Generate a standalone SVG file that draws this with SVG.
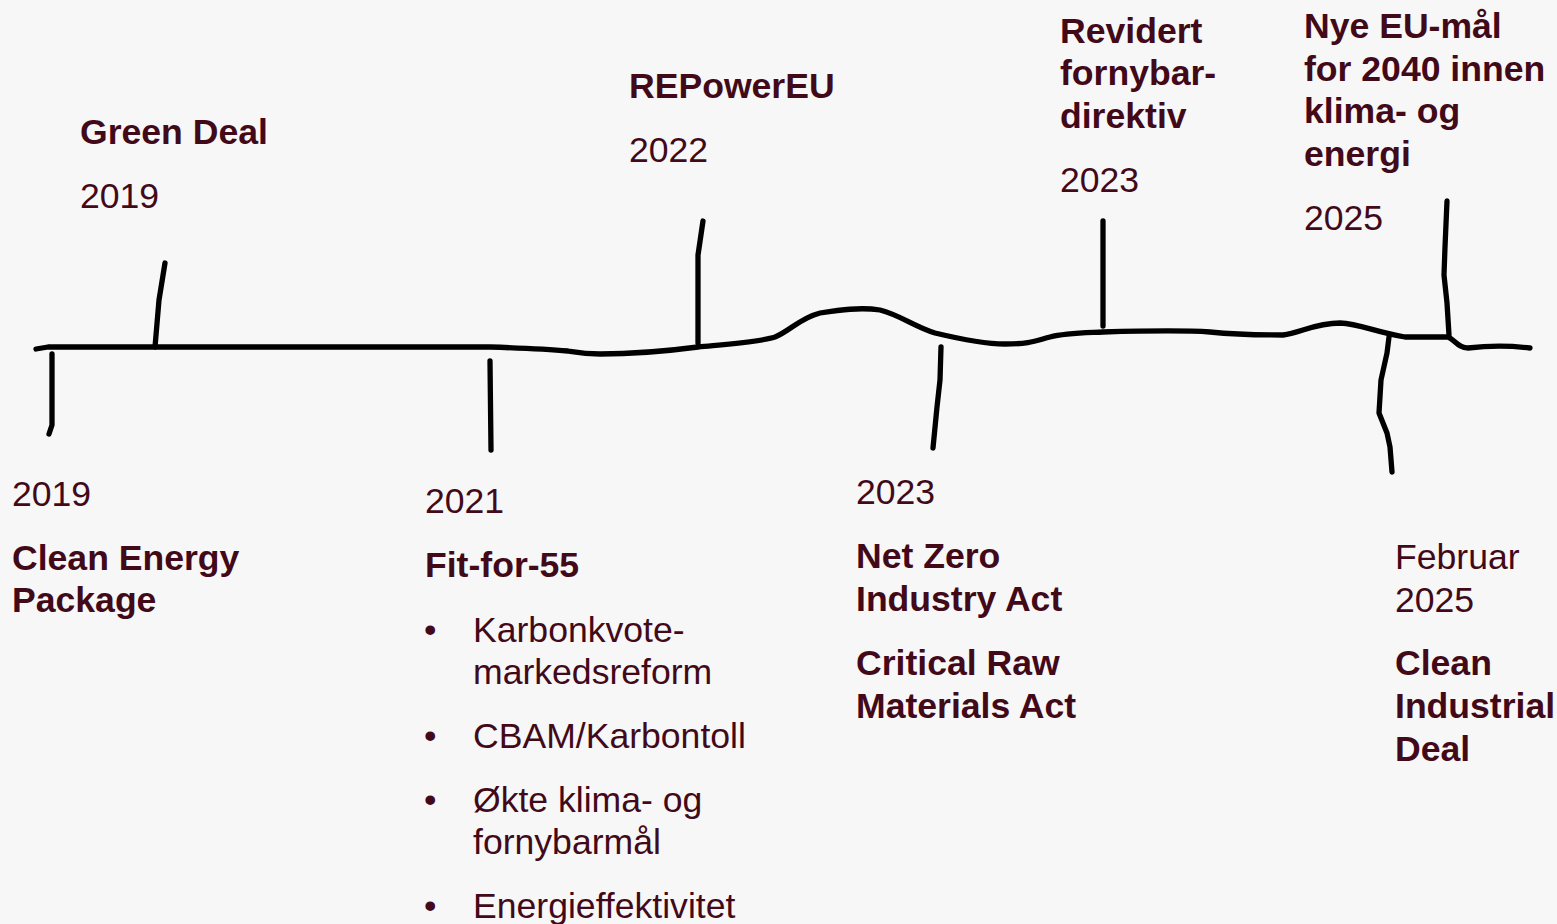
<svg xmlns="http://www.w3.org/2000/svg" width="1557" height="924" viewBox="0 0 1557 924">
<style>
.t{font-family:"Liberation Sans",Arial,sans-serif;font-size:35.6px;fill:#420a18}
.b{font-weight:bold}
.ln{fill:none;stroke:#000;stroke-width:5.3;stroke-linecap:round;stroke-linejoin:round}
</style>
<rect width="1557" height="924" fill="#f7f7f7"/>
<g id="connectors">
<path class="ln" d="M36,349 L48,347 L490,347 C520,348 545,349 568,351 C580,353 585,354 600,354 C630,354 660,352 698,347 C730,344 760,342 775,337 C790,331 800,318 820,313 C840,310 860,307 880,310 C900,315 915,327 935,333 C960,339 985,344 1005,344 C1030,344 1035,341 1050,337 C1065,333 1080,333 1103,332 C1140,331 1180,330 1210,332 C1230,334 1245,335 1283,335 C1300,333 1315,323 1340,323 C1360,324 1375,332 1405,337 L1448,337 C1455,340 1458,348 1468,348 C1485,346 1505,345 1530,348"/>
<path class="ln" d="M52,354 L52,425 L49,434"/>
<path class="ln" d="M155,347 L159,300 L165,263"/>
<path class="ln" d="M490,361 L491,450"/>
<path class="ln" d="M698,343 L698,255 L703,221"/>
<path class="ln" d="M941,347 L940,380 L937,407 L933,448"/>
<path class="ln" d="M1103,221 L1103,326"/>
<path class="ln" d="M1449,335 L1447,303 L1444,275 L1445,247 L1447,201"/>
<path class="ln" d="M1389,337 L1387,353 L1381,380 L1379,413 L1387,433 L1390,447 L1392,472"/>
</g>
<g id="n-green-deal">
<text class="t b" x="80" y="144">Green Deal</text>
<text class="t" x="80" y="208">2019</text>
</g>
<g id="n-repowereu">
<text class="t b" x="629" y="98">REPowerEU</text>
<text class="t" x="629" y="162">2022</text>
</g>
<g id="n-revidert">
<text class="t b" x="1060" y="43">Revidert</text>
<text class="t b" x="1060" y="85">fornybar-</text>
<text class="t b" x="1060" y="128">direktiv</text>
<text class="t" x="1060" y="192">2023</text>
</g>
<g id="n-nye-eu">
<text class="t b" x="1304" y="38">Nye EU-mål</text>
<text class="t b" x="1304" y="81">for 2040 innen</text>
<text class="t b" x="1304" y="123">klima- og</text>
<text class="t b" x="1304" y="166">energi</text>
<text class="t" x="1304" y="230">2025</text>
</g>
<g id="n-clean-energy">
<text class="t" x="12" y="506">2019</text>
<text class="t b" x="12" y="570">Clean Energy</text>
<text class="t b" x="12" y="612">Package</text>
</g>
<g id="n-fit-for-55">
<text class="t" x="425" y="513">2021</text>
<text class="t b" x="425" y="577">Fit-for-55</text>
<text class="t" x="424" y="642">•</text>
<text class="t" x="473" y="642">Karbonkvote-</text>
<text class="t" x="473" y="684">markedsreform</text>
<text class="t" x="424" y="748">•</text>
<text class="t" x="473" y="748">CBAM/Karbontoll</text>
<text class="t" x="424" y="812">•</text>
<text class="t" x="473" y="812">Økte klima- og</text>
<text class="t" x="473" y="854">fornybarmål</text>
<text class="t" x="424" y="918">•</text>
<text class="t" x="473" y="918">Energieffektivitet</text>
</g>
<g id="n-nzia">
<text class="t" x="856" y="504">2023</text>
<text class="t b" x="856" y="568">Net Zero</text>
<text class="t b" x="856" y="611">Industry Act</text>
<text class="t b" x="856" y="675">Critical Raw</text>
<text class="t b" x="856" y="718">Materials Act</text>
</g>
<g id="n-cid">
<text class="t" x="1395" y="569">Februar</text>
<text class="t" x="1395" y="612">2025</text>
<text class="t b" x="1395" y="675">Clean</text>
<text class="t b" x="1395" y="718">Industrial</text>
<text class="t b" x="1395" y="761">Deal</text>
</g>
</svg>
